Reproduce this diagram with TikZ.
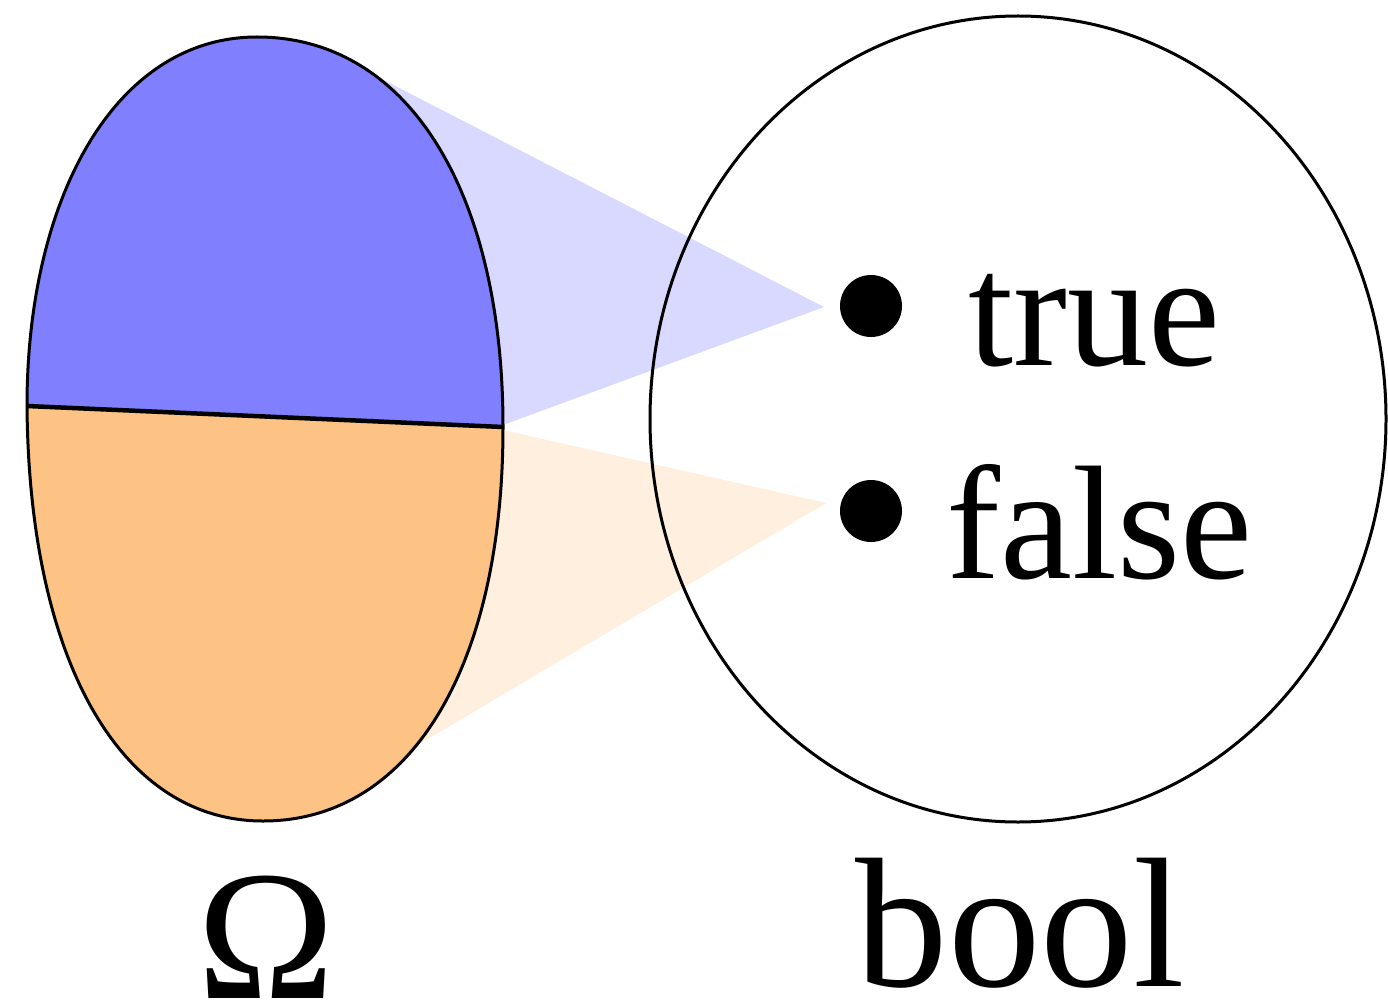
\documentclass[tikz,border=0pt]{standalone}
\usepackage{fontspec}
\setmainfont{Liberation Serif}
\usetikzlibrary{shapes.geometric}
\begin{document}
\begin{tikzpicture}[x=1pt,y=-1pt,
  outline/.style={draw=black,line width=3pt},
  divider/.style={draw=black,line width=4.5pt},
  dotnode/.style={circle,fill=black,inner sep=0pt,minimum size=62pt},
  valtext/.style={anchor=base west,inner sep=0pt,font=\fontsize{162}{162}\selectfont},
  settext/.style={anchor=base,inner sep=0pt,font=\fontsize{185}{185}\selectfont}]
\definecolor{egblue}{HTML}{8080FF}
\definecolor{egorange}{HTML}{FDC385}
\definecolor{coneblue}{HTML}{D9D9FF}
\definecolor{coneorange}{HTML}{FFEFDF}
\fill[white] (0,0) rectangle (1388,1008);
\useasboundingbox (0,0) rectangle (1388,1008);
% key points
\coordinate (L) at (27,406);
\coordinate (T) at (257,37);
\coordinate (R) at (503,427);
\coordinate (B) at (263,821);
\coordinate (bt) at (376,76);
\coordinate (bb) at (503,425);
\coordinate (ot) at (503,430);
\coordinate (ob) at (411,749);
\coordinate (apT) at (824,307);
\coordinate (apF) at (826,503);
% cones
\fill[coneblue] (bt) -- (apT) -- (bb) -- (R) -- cycle;
\fill[coneorange] (ot) -- (apF) -- (ob) -- (R) -- cycle;
% egg halves
\fill[egblue] (L) .. controls (27,198) and (115,37) .. (T)
  .. controls (410,37) and (503,195) .. (R) -- cycle;
\fill[egorange] (R) .. controls (503,668) and (410,821) .. (B)
  .. controls (120,821) and (29,660) .. (L) -- cycle;
\draw[outline] (L) .. controls (27,198) and (115,37) .. (T)
  .. controls (410,37) and (503,195) .. (R)
  .. controls (503,668) and (410,821) .. (B)
  .. controls (120,821) and (29,660) .. (L) -- cycle;
\draw[divider] (L) -- (R);
% bool set
\node[ellipse,draw=black,line width=3pt,inner sep=0pt,
      minimum width=736pt,minimum height=806pt] (boolset) at (1018,419) {};
\node[dotnode] (dtrue) at (871,306) {};
\node[dotnode] (dfalse) at (871,511) {};
\node[valtext] (ttrue) at (968,365) {true};
\node[valtext] (tfalse) at (946,578) {false};
\node[settext] (lomega) at (266,998) {Ω};
\node[settext] (lbool) at (1020,986) {bool};
\end{tikzpicture}
\end{document}
